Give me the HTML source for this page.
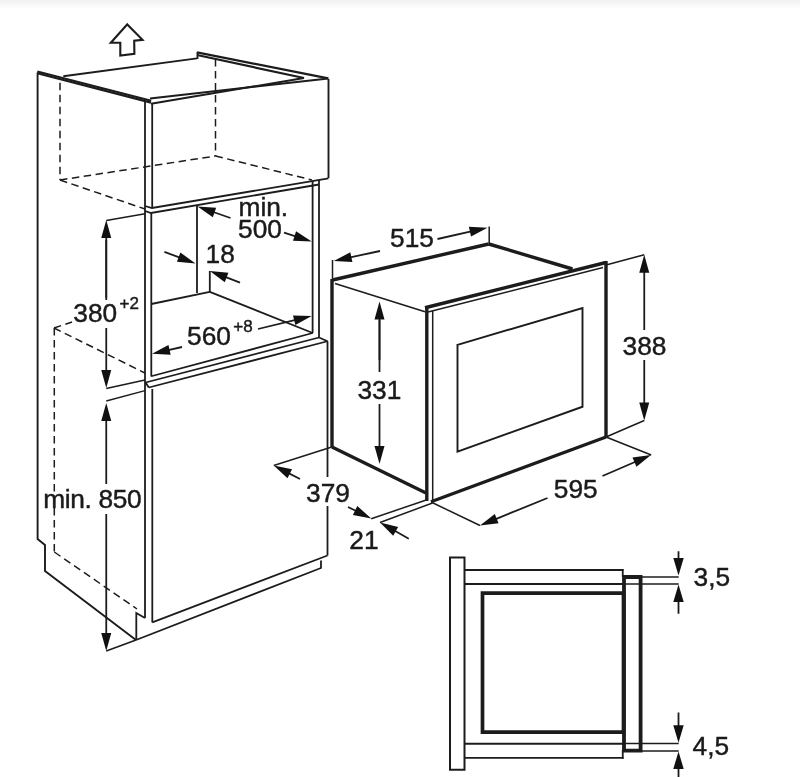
<!DOCTYPE html>
<html><head><meta charset="utf-8"><title>Built-in dimensions</title>
<style>
html,body{margin:0;padding:0;background:#fff;}
body{width:800px;height:777px;overflow:hidden;}
svg{display:block;filter:grayscale(1);}
svg text{font-family:"Liberation Sans",sans-serif;fill:#1a1a1a;stroke:#1a1a1a;stroke-width:0.45px;}
</style></head><body>
<svg width="800" height="777" viewBox="0 0 800 777">
<defs><linearGradient id="tg" x1="0" y1="0" x2="0" y2="1"><stop offset="0" stop-color="#f1f1f1"/><stop offset="1" stop-color="#ffffff"/></linearGradient></defs>
<rect x="0" y="0" width="800" height="777" fill="#ffffff"/>
<rect x="0" y="0" width="800" height="9" fill="url(#tg)"/>
<polygon points="127.3,24.4 142.5,39.8 134.2,40.6 134.4,53.8 120.3,55.5 120.3,42.7 110.8,42.7" fill="none" stroke="#1c1c1c" stroke-width="2.1" stroke-linejoin="miter"/>
<polyline points="37.6,72.5 37.6,539 45,545 45,571 136,640" fill="none" stroke="#1c1c1c" stroke-width="1.9" stroke-linejoin="miter"/>
<line x1="37.3" y1="71.5" x2="151.2" y2="100.7" stroke="#1c1c1c" stroke-width="2.2" stroke-linecap="butt"/>
<line x1="37.3" y1="73.3" x2="151" y2="102.6" stroke="#1c1c1c" stroke-width="2.2" stroke-linecap="butt"/>
<line x1="63.3" y1="76.2" x2="197" y2="58.4" stroke="#1c1c1c" stroke-width="1.9" stroke-linecap="butt"/>
<line x1="197.5" y1="52" x2="197.5" y2="59" stroke="#1c1c1c" stroke-width="1.9" stroke-linecap="butt"/>
<line x1="197" y1="52.4" x2="328.3" y2="78.4" stroke="#1c1c1c" stroke-width="2.2" stroke-linecap="butt"/>
<line x1="197" y1="55" x2="304" y2="78" stroke="#1c1c1c" stroke-width="2.2" stroke-linecap="butt"/>
<line x1="150" y1="98.6" x2="328.3" y2="78.4" stroke="#1c1c1c" stroke-width="2" stroke-linecap="butt"/>
<line x1="151" y1="103.8" x2="304" y2="78" stroke="#1c1c1c" stroke-width="2" stroke-linecap="butt"/>
<line x1="328.5" y1="79" x2="328.5" y2="178" stroke="#1c1c1c" stroke-width="1.9" stroke-linecap="butt"/>
<line x1="145" y1="101" x2="145" y2="618" stroke="#1c1c1c" stroke-width="1.8" stroke-linecap="butt"/>
<line x1="152.2" y1="103" x2="152.2" y2="207.5" stroke="#1c1c1c" stroke-width="1.8" stroke-linecap="butt"/>
<line x1="151.3" y1="212.5" x2="151.3" y2="376.5" stroke="#1c1c1c" stroke-width="1.8" stroke-linecap="butt"/>
<line x1="152.3" y1="389" x2="152.3" y2="622.4" stroke="#1c1c1c" stroke-width="1.8" stroke-linecap="butt"/>
<line x1="60" y1="82.8" x2="60" y2="180" stroke="#1c1c1c" stroke-width="1.5" stroke-dasharray="7.5 4.5" stroke-linecap="butt"/>
<line x1="215.5" y1="59" x2="215.5" y2="156" stroke="#1c1c1c" stroke-width="1.5" stroke-dasharray="7.5 4.5" stroke-linecap="butt"/>
<line x1="60" y1="180" x2="215.5" y2="156" stroke="#1c1c1c" stroke-width="1.5" stroke-dasharray="7.5 4.5" stroke-linecap="butt"/>
<line x1="215.5" y1="156" x2="312" y2="180" stroke="#1c1c1c" stroke-width="1.5" stroke-dasharray="7.5 4.5" stroke-linecap="butt"/>
<line x1="60" y1="180" x2="145" y2="209" stroke="#1c1c1c" stroke-width="1.5" stroke-dasharray="7.5 4.5" stroke-linecap="butt"/>
<polyline points="145,206 152,208 328.5,178.3" fill="none" stroke="#1c1c1c" stroke-width="1.8" stroke-linejoin="miter"/>
<polyline points="145,211 151,213 319,184.5" fill="none" stroke="#1c1c1c" stroke-width="1.8" stroke-linejoin="miter"/>
<line x1="312.6" y1="181" x2="312.6" y2="333" stroke="#1c1c1c" stroke-width="1.8" stroke-linecap="butt"/>
<line x1="319" y1="180" x2="319" y2="337.5" stroke="#1c1c1c" stroke-width="1.8" stroke-linecap="butt"/>
<line x1="197" y1="205" x2="197" y2="293" stroke="#1c1c1c" stroke-width="1.8" stroke-linecap="butt"/>
<line x1="209.8" y1="271" x2="209.8" y2="292" stroke="#1c1c1c" stroke-width="1.8" stroke-linecap="butt"/>
<line x1="151.3" y1="304" x2="209.8" y2="291.8" stroke="#1c1c1c" stroke-width="1.8" stroke-linecap="butt"/>
<line x1="209.8" y1="291.8" x2="312.75" y2="333" stroke="#1c1c1c" stroke-width="1.8" stroke-linecap="butt"/>
<line x1="151.25" y1="376.25" x2="312.75" y2="333" stroke="#1c1c1c" stroke-width="1.8" stroke-linecap="butt"/>
<line x1="145.6" y1="382.5" x2="319" y2="337.5" stroke="#1c1c1c" stroke-width="1.8" stroke-linecap="butt"/>
<line x1="148.75" y1="387.5" x2="327.5" y2="341.25" stroke="#1c1c1c" stroke-width="1.8" stroke-linecap="butt"/>
<line x1="319" y1="337.5" x2="327.5" y2="341.25" stroke="#1c1c1c" stroke-width="1.8" stroke-linecap="butt"/>
<line x1="145.6" y1="382.5" x2="148.75" y2="387.5" stroke="#1c1c1c" stroke-width="1.8" stroke-linecap="butt"/>
<line x1="327.5" y1="341.25" x2="327.5" y2="477" stroke="#1c1c1c" stroke-width="1.8" stroke-linecap="butt"/>
<line x1="327.5" y1="506" x2="327.5" y2="555.5" stroke="#1c1c1c" stroke-width="1.8" stroke-linecap="butt"/>
<line x1="152.3" y1="622.4" x2="327.5" y2="555.5" stroke="#1c1c1c" stroke-width="1.8" stroke-linecap="butt"/>
<polyline points="321,560.5 321,568 136,640" fill="none" stroke="#1c1c1c" stroke-width="1.8" stroke-linejoin="miter"/>
<polyline points="136.3,640 136.3,613 145,618" fill="none" stroke="#1c1c1c" stroke-width="1.8" stroke-linejoin="miter"/>
<line x1="54.3" y1="328" x2="54.3" y2="552" stroke="#1c1c1c" stroke-width="1.5" stroke-dasharray="7.5 4.5" stroke-linecap="butt"/>
<line x1="54.3" y1="552" x2="137" y2="609" stroke="#1c1c1c" stroke-width="1.5" stroke-dasharray="7.5 4.5" stroke-linecap="butt"/>
<line x1="54" y1="328" x2="145" y2="373" stroke="#1c1c1c" stroke-width="1.5" stroke-dasharray="7.5 4.5" stroke-linecap="butt"/>
<line x1="54" y1="328" x2="72" y2="322" stroke="#1c1c1c" stroke-width="1.5" stroke-dasharray="7.5 4.5" stroke-linecap="butt"/>
<line x1="106.25" y1="220.5" x2="145" y2="213.75" stroke="#1c1c1c" stroke-width="1.5" stroke-linecap="butt"/>
<line x1="106.25" y1="388.5" x2="145" y2="380" stroke="#1c1c1c" stroke-width="1.5" stroke-linecap="butt"/>
<line x1="106.25" y1="300" x2="106.25" y2="234.4" stroke="#1c1c1c" stroke-width="1.8" stroke-linecap="butt"/>
<polygon points="106.25,220.00 111.25,238.00 101.25,238.00" fill="#111"/>
<line x1="106.25" y1="328" x2="106.25" y2="373.6" stroke="#1c1c1c" stroke-width="1.8" stroke-linecap="butt"/>
<polygon points="106.25,388.00 101.25,370.00 111.25,370.00" fill="#111"/>
<line x1="106.25" y1="240" x2="106.25" y2="298" stroke="#1c1c1c" stroke-width="1.8" stroke-linecap="butt"/>
<text x="73.3" y="321.5" font-size="26.3" text-anchor="start">380</text>
<text x="119.5" y="308.6" font-size="17" text-anchor="start">+2</text>
<line x1="106.25" y1="401" x2="145" y2="390.6" stroke="#1c1c1c" stroke-width="1.5" stroke-linecap="butt"/>
<line x1="106.25" y1="484" x2="106.25" y2="417.4" stroke="#1c1c1c" stroke-width="1.8" stroke-linecap="butt"/>
<polygon points="106.25,403.00 111.25,421.00 101.25,421.00" fill="#111"/>
<line x1="106.25" y1="514" x2="106.25" y2="636.6" stroke="#1c1c1c" stroke-width="1.8" stroke-linecap="butt"/>
<polygon points="106.25,651.00 101.25,633.00 111.25,633.00" fill="#111"/>
<line x1="106.25" y1="651" x2="136" y2="640" stroke="#1c1c1c" stroke-width="1.5" stroke-linecap="butt"/>
<text x="43.3" y="508" font-size="26.3" text-anchor="start" letter-spacing="-0.35">min. 850</text>
<text x="238.5" y="216" font-size="26.3" text-anchor="start">min.</text>
<text x="238" y="237.5" font-size="26.3" text-anchor="start">500</text>
<line x1="230.5" y1="218" x2="211.1" y2="211.24" stroke="#1c1c1c" stroke-width="1.8" stroke-linecap="butt"/>
<polygon points="197.50,206.50 216.14,207.70 212.85,217.14" fill="#111"/>
<line x1="284" y1="232.6" x2="297.98" y2="237.04" stroke="#1c1c1c" stroke-width="1.8" stroke-linecap="butt"/>
<polygon points="311.70,241.40 293.03,240.72 296.06,231.18" fill="#111"/>
<text x="205.5" y="263.4" font-size="26.3" text-anchor="start">18</text>
<line x1="164.4" y1="251.9" x2="181.99" y2="258.41" stroke="#1c1c1c" stroke-width="1.8" stroke-linecap="butt"/>
<polygon points="195.50,263.40 176.88,261.85 180.35,252.47" fill="#111"/>
<line x1="240" y1="282.7" x2="223.23" y2="276.2" stroke="#1c1c1c" stroke-width="1.8" stroke-linecap="butt"/>
<polygon points="209.80,271.00 228.39,272.84 224.78,282.16" fill="#111"/>
<text x="187" y="345" font-size="26.3" text-anchor="start">560</text>
<text x="233.3" y="332" font-size="17" text-anchor="start">+8</text>
<line x1="258" y1="329" x2="297.7" y2="319.39" stroke="#1c1c1c" stroke-width="1.8" stroke-linecap="butt"/>
<polygon points="311.70,316.00 295.38,325.09 293.03,315.38" fill="#111"/>
<line x1="182" y1="347" x2="166.05" y2="350.56" stroke="#1c1c1c" stroke-width="1.8" stroke-linecap="butt"/>
<polygon points="152.00,353.70 168.48,344.90 170.66,354.66" fill="#111"/>
<line x1="332.5" y1="260" x2="332.5" y2="280" stroke="#1c1c1c" stroke-width="1.5" stroke-linecap="butt"/>
<line x1="489.2" y1="226.5" x2="489.2" y2="244" stroke="#1c1c1c" stroke-width="1.5" stroke-linecap="butt"/>
<line x1="380" y1="251" x2="347.82" y2="257.96" stroke="#1c1c1c" stroke-width="1.8" stroke-linecap="butt"/>
<polygon points="333.75,261.00 350.29,252.31 352.40,262.08" fill="#111"/>
<line x1="437.5" y1="239" x2="473.45" y2="230.91" stroke="#1c1c1c" stroke-width="1.8" stroke-linecap="butt"/>
<polygon points="487.50,227.75 471.04,236.58 468.84,226.82" fill="#111"/>
<text x="390" y="246.5" font-size="26.3" text-anchor="start">515</text>
<line x1="332.5" y1="280" x2="488.75" y2="244" stroke="#1c1c1c" stroke-width="3.4" stroke-linecap="butt"/>
<line x1="488.75" y1="244" x2="572.5" y2="269" stroke="#1c1c1c" stroke-width="3.4" stroke-linecap="butt"/>
<line x1="332" y1="279" x2="332" y2="447" stroke="#1c1c1c" stroke-width="3.4" stroke-linecap="butt"/>
<line x1="332" y1="447" x2="426" y2="493" stroke="#1c1c1c" stroke-width="3.4" stroke-linecap="butt"/>
<line x1="335" y1="283.5" x2="425" y2="311.8" stroke="#1c1c1c" stroke-width="1.6" stroke-linecap="butt"/>
<line x1="425" y1="307.75" x2="606" y2="262.5" stroke="#1c1c1c" stroke-width="3.4" stroke-linecap="butt"/>
<line x1="428" y1="312" x2="603" y2="267.6" stroke="#1c1c1c" stroke-width="1.5" stroke-linecap="butt"/>
<line x1="606" y1="261" x2="606" y2="437.5" stroke="#1c1c1c" stroke-width="3.4" stroke-linecap="butt"/>
<line x1="426.8" y1="307" x2="426.8" y2="501" stroke="#1c1c1c" stroke-width="3.4" stroke-linecap="butt"/>
<line x1="432.7" y1="311" x2="432.7" y2="503" stroke="#1c1c1c" stroke-width="1.5" stroke-linecap="butt"/>
<line x1="431" y1="501.75" x2="606" y2="437" stroke="#1c1c1c" stroke-width="3.4" stroke-linecap="butt"/>
<polygon points="457.5,344.8 582.5,308 582.5,406.75 457.5,451.75" fill="none" stroke="#1c1c1c" stroke-width="1.9" stroke-linejoin="miter"/>
<line x1="379.5" y1="360" x2="379.5" y2="315.9" stroke="#1c1c1c" stroke-width="1.8" stroke-linecap="butt"/>
<polygon points="379.50,301.50 384.50,319.50 374.50,319.50" fill="#111"/>
<line x1="379.5" y1="404" x2="379.5" y2="449.6" stroke="#1c1c1c" stroke-width="1.8" stroke-linecap="butt"/>
<polygon points="379.50,464.00 374.50,446.00 384.50,446.00" fill="#111"/>
<line x1="379.5" y1="320" x2="379.5" y2="372" stroke="#1c1c1c" stroke-width="1.8" stroke-linecap="butt"/>
<text x="357.4" y="399" font-size="26.3" text-anchor="start">331</text>
<line x1="606" y1="265" x2="644.25" y2="254.75" stroke="#1c1c1c" stroke-width="1.5" stroke-linecap="butt"/>
<line x1="606" y1="437" x2="644.25" y2="420.5" stroke="#1c1c1c" stroke-width="1.5" stroke-linecap="butt"/>
<line x1="644.25" y1="330" x2="644.25" y2="269.15" stroke="#1c1c1c" stroke-width="1.8" stroke-linecap="butt"/>
<polygon points="644.25,254.75 649.25,272.75 639.25,272.75" fill="#111"/>
<line x1="644.25" y1="360" x2="644.25" y2="406.1" stroke="#1c1c1c" stroke-width="1.8" stroke-linecap="butt"/>
<polygon points="644.25,420.50 639.25,402.50 649.25,402.50" fill="#111"/>
<text x="622.5" y="355" font-size="26.3" text-anchor="start">388</text>
<line x1="331.75" y1="447" x2="273.75" y2="465.5" stroke="#1c1c1c" stroke-width="1.5" stroke-linecap="butt"/>
<line x1="300" y1="479" x2="286.56" y2="472.09" stroke="#1c1c1c" stroke-width="1.8" stroke-linecap="butt"/>
<polygon points="273.75,465.50 292.04,469.29 287.47,478.18" fill="#111"/>
<line x1="348" y1="507" x2="358.32" y2="512.06" stroke="#1c1c1c" stroke-width="1.8" stroke-linecap="butt"/>
<polygon points="371.25,518.40 352.89,514.96 357.29,505.99" fill="#111"/>
<text x="306" y="501.75" font-size="26.3" text-anchor="start">379</text>
<line x1="371.25" y1="518.75" x2="426.25" y2="500" stroke="#1c1c1c" stroke-width="1.5" stroke-linecap="butt"/>
<line x1="380" y1="522.5" x2="432.5" y2="503" stroke="#1c1c1c" stroke-width="1.5" stroke-linecap="butt"/>
<line x1="408.75" y1="538.75" x2="392.54" y2="529.59" stroke="#1c1c1c" stroke-width="1.8" stroke-linecap="butt"/>
<polygon points="380.00,522.50 398.13,527.00 393.21,535.71" fill="#111"/>
<text x="349.3" y="548.6" font-size="26.3" text-anchor="start">21</text>
<line x1="431" y1="502" x2="480" y2="525.5" stroke="#1c1c1c" stroke-width="1.5" stroke-linecap="butt"/>
<line x1="606" y1="437" x2="651.25" y2="455" stroke="#1c1c1c" stroke-width="1.5" stroke-linecap="butt"/>
<line x1="547.5" y1="498" x2="493.34" y2="520.07" stroke="#1c1c1c" stroke-width="1.8" stroke-linecap="butt"/>
<polygon points="480.00,525.50 494.78,514.08 498.56,523.34" fill="#111"/>
<line x1="602.5" y1="476" x2="637.79" y2="460.72" stroke="#1c1c1c" stroke-width="1.8" stroke-linecap="butt"/>
<polygon points="651.00,455.00 636.47,466.74 632.50,457.56" fill="#111"/>
<text x="553.75" y="498" font-size="26.3" text-anchor="start">595</text>
<polygon points="450,557.5 464.5,557.5 464.5,769.75 450,769.75" fill="none" stroke="#1c1c1c" stroke-width="2" stroke-linejoin="miter"/>
<line x1="464.5" y1="570" x2="623.5" y2="570" stroke="#1c1c1c" stroke-width="2" stroke-linecap="butt"/>
<line x1="464.5" y1="584" x2="623" y2="584" stroke="#1c1c1c" stroke-width="1.8" stroke-linecap="butt"/>
<line x1="464.5" y1="743.75" x2="623" y2="743.75" stroke="#1c1c1c" stroke-width="1.8" stroke-linecap="butt"/>
<line x1="464.5" y1="757.9" x2="623.6" y2="757.9" stroke="#1c1c1c" stroke-width="1.8" stroke-linecap="butt"/>
<line x1="622.75" y1="750" x2="622.75" y2="758.8" stroke="#1c1c1c" stroke-width="1.8" stroke-linecap="butt"/>
<line x1="622.75" y1="569" x2="622.75" y2="577" stroke="#1c1c1c" stroke-width="1.8" stroke-linecap="butt"/>
<polygon points="482.5,593.2 623.5,593.2 623.5,732.2 482.5,732.2" fill="none" stroke="#1c1c1c" stroke-width="3.7" stroke-linejoin="miter"/>
<polygon points="624,577 640.6,577 640.6,750.6 624,750.6" fill="none" stroke="#1c1c1c" stroke-width="3.8" stroke-linejoin="miter"/>
<line x1="625" y1="583.9" x2="678.7" y2="583.9" stroke="#1c1c1c" stroke-width="1.5" stroke-linecap="butt"/>
<line x1="625" y1="743.6" x2="678.7" y2="743.6" stroke="#1c1c1c" stroke-width="1.5" stroke-linecap="butt"/>
<line x1="641" y1="577" x2="678.7" y2="577" stroke="#1c1c1c" stroke-width="1.5" stroke-linecap="butt"/>
<line x1="678.5" y1="551.25" x2="678.5" y2="561.6" stroke="#1c1c1c" stroke-width="1.8" stroke-linecap="butt"/>
<polygon points="678.50,575.60 673.30,558.10 683.70,558.10" fill="#111"/>
<line x1="678.5" y1="613.75" x2="678.5" y2="598.4" stroke="#1c1c1c" stroke-width="1.8" stroke-linecap="butt"/>
<polygon points="678.50,584.40 683.70,601.90 673.30,601.90" fill="#111"/>
<text x="693.5" y="586" font-size="26.3" text-anchor="start">3,5</text>
<line x1="641" y1="751" x2="678.7" y2="751" stroke="#1c1c1c" stroke-width="1.5" stroke-linecap="butt"/>
<line x1="678.5" y1="712.5" x2="678.5" y2="728.7" stroke="#1c1c1c" stroke-width="1.8" stroke-linecap="butt"/>
<polygon points="678.50,742.70 673.30,725.20 683.70,725.20" fill="#111"/>
<line x1="678.5" y1="778" x2="678.5" y2="765.4" stroke="#1c1c1c" stroke-width="1.8" stroke-linecap="butt"/>
<polygon points="678.50,751.40 683.70,768.90 673.30,768.90" fill="#111"/>
<text x="692.5" y="754.5" font-size="26.3" text-anchor="start">4,5</text>
</svg>
</body></html>
